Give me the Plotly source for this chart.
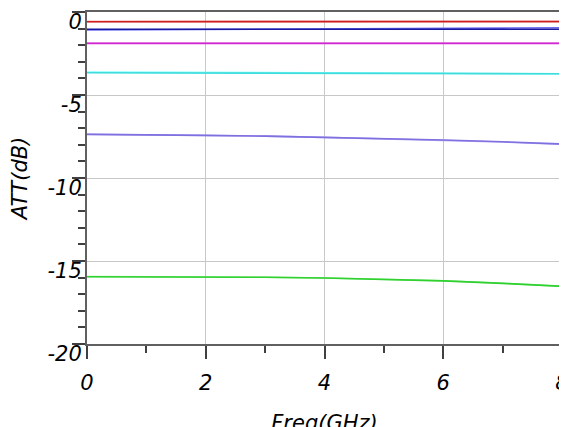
import plotly.graph_objects as go

freq = [0, 1, 2, 3, 4, 5, 6, 7, 8]

red_a = [-0.57, -0.57, -0.58, -0.58, -0.58, -0.58, -0.58, -0.58, -0.58]
red_b = [-0.59, -0.59, -0.59, -0.59, -0.59, -0.58, -0.58, -0.57, -0.57]
blue_a = [-1.08, -1.07, -1.06, -1.04, -1.01, -0.99, -0.98, -0.97, -0.95]
navy_b = [-1.04, -1.04, -1.04, -1.04, -1.04, -1.04, -1.04, -1.04, -1.04]
pink_a = [-1.88, -1.88, -1.89, -1.88, -1.88, -1.88, -1.88, -1.88, -1.88]
magenta_b = [-1.89, -1.89, -1.89, -1.89, -1.89, -1.89, -1.89, -1.89, -1.89]
cyan_a = [-3.62, -3.64, -3.65, -3.66, -3.67, -3.68, -3.69, -3.71, -3.74]
turq_b = [-3.66, -3.67, -3.68, -3.68, -3.69, -3.69, -3.70, -3.71, -3.72]
lav_a = [-7.36, -7.39, -7.42, -7.48, -7.55, -7.63, -7.72, -7.83, -7.97]
purple_b = [-7.37, -7.39, -7.43, -7.48, -7.55, -7.62, -7.71, -7.82, -7.95]
lgreen_a = [-15.93, -15.94, -15.96, -15.98, -16.02, -16.09, -16.19, -16.34, -16.53]
green_b = [-15.95, -15.95, -15.96, -15.98, -16.02, -16.10, -16.20, -16.35, -16.52]

series = [
    (red_a, "#f07070"), (red_b, "#cc2020"),
    (blue_a, "#6a6af0"), (navy_b, "#1818a0"),
    (pink_a, "#f088f0"), (magenta_b, "#d028d0"),
    (cyan_a, "#80ffff"), (turq_b, "#40dcdc"),
    (lav_a, "#b4a8f4"), (purple_b, "#7f70e0"),
    (lgreen_a, "#88f088"), (green_b, "#30d030"),
]

fig = go.Figure()
for ys, col in series:
    fig.add_trace(go.Scatter(x=freq, y=ys, mode="lines",
                             line=dict(color=col, width=1.6), showlegend=False))

font_family = "DejaVu Sans"
tick_font = dict(family=font_family, size=21, color="black", style="italic")
title_font = dict(family=font_family, size=21, color="black", style="italic")

# page body adds an 8px offset; margins compensate so the plot area lands at x 87-562, y 12-344
fig.update_layout(
    width=567, height=427,
    margin=dict(l=79, r=13, t=4, b=91, autoexpand=False),
    paper_bgcolor="white", plot_bgcolor="white",
)
fig.update_xaxes(
    range=[0, 8], tickvals=[0, 2, 4, 6, 8], ticktext=["0", "2", "4", "6", "8"],
    showgrid=True, gridcolor="#c8c8c8", gridwidth=1,
    showline=True, linecolor="#606060", linewidth=2, mirror=True,
    ticks="outside", ticklen=13, tickcolor="#404040", tickwidth=1.5,
    minor=dict(dtick=1, tick0=0, ticks="outside", ticklen=7, tickcolor="#404040", showgrid=False),
    tickfont=tick_font, ticklabelstandoff=6, automargin=False, ticklabeloverflow="allow",
    title=dict(text="Freq(GHz)", font=title_font, standoff=26),
    zeroline=False,
)
fig.update_yaxes(
    range=[-20, 0], tickvals=[0, -5, -10, -15, -20], ticktext=["0", "-5", "-10", "-15", "-20"],
    showgrid=True, gridcolor="#c8c8c8", gridwidth=1,
    showline=True, linecolor="#606060", linewidth=2, mirror=True,
    ticks="outside", ticklen=13, tickcolor="#404040", tickwidth=1.5,
    minor=dict(dtick=1, tick0=0, ticks="outside", ticklen=7, tickcolor="#404040", showgrid=False),
    tickfont=tick_font, ticklabelstandoff=-14, ticklabelshift=10, automargin=False,
    ticklabeloverflow="allow",
    title=dict(text="ATT(dB)", font=title_font, standoff=18),
    zeroline=False,
)

fig.write_html("out.html")
